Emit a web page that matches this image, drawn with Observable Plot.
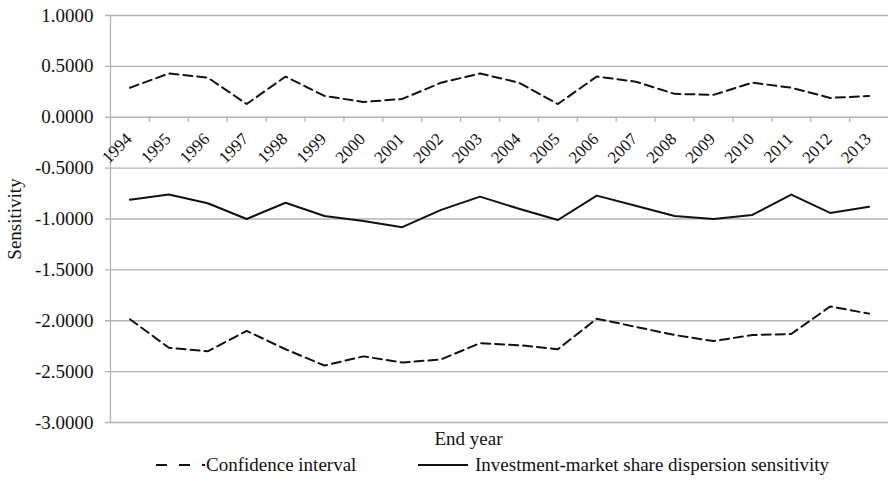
<!DOCTYPE html>
<html>
<head>
<meta charset="utf-8">
<script src="https://cdn.jsdelivr.net/npm/d3@7"></script>
<script src="https://cdn.jsdelivr.net/npm/@observablehq/plot@0.6"></script>
<style>
  html, body { margin: 0; padding: 0; background: #fff; }
  #chart { width: 888px; font-family: "Liberation Serif", "Times New Roman", serif; color: #111; }
  .legend { position: relative; height: 30px; font-size: 19px; }
  .legend > * { position: absolute; top: 0; height: 30px; display: flex; align-items: center; white-space: nowrap; }
  .legend svg { display: block; }
</style>
</head>
<body>
<div id="chart"></div>
<script>
// End years of the rolling estimation windows
const years = ["1994","1995","1996","1997","1998","1999","2000","2001","2002","2003",
               "2004","2005","2006","2007","2008","2009","2010","2011","2012","2013"];

// Investment-market share dispersion sensitivity
const sensitivity = [-0.81, -0.76, -0.845, -1.00, -0.84, -0.97, -1.02, -1.08, -0.91, -0.78,
                     -0.90, -1.01, -0.77, -0.87, -0.97, -1.00, -0.96, -0.76, -0.94, -0.88];

// Upper and lower bounds of the confidence interval
const ciUpper = [0.29, 0.43, 0.39, 0.13, 0.40, 0.21, 0.15, 0.18, 0.34, 0.43,
                 0.34, 0.13, 0.40, 0.35, 0.23, 0.22, 0.34, 0.29, 0.19, 0.21];
const ciLower = [-1.985, -2.265, -2.30, -2.10, -2.28, -2.44, -2.35, -2.41, -2.38, -2.22,
                 -2.24, -2.28, -1.98, -2.06, -2.14, -2.20, -2.14, -2.13, -1.86, -1.93];

// y-axis ticks
const yTicks = [1, 0.5, 0, -0.5, -1, -1.5, -2, -2.5, -3];

const serif = "Liberation Serif, Times New Roman, serif";
const fmt = d => d3.format(".4f")(d).replace("\u2212", "-");
const toRows = (vals) => vals.map((v, i) => ({i: i + 0.5, year: years[i], v}));
const boundaries = d3.range(1, years.length + 1);
const grid = "#b3b3b3";
const ink = "#111";
const dash = "9,5";

const plot = Plot.plot({
  width: 888,
  height: 450,
  marginTop: 15,
  marginBottom: 28,
  marginLeft: 110,
  marginRight: 0,
  style: {fontFamily: serif, color: ink, background: "#fff"},
  x: {type: "linear", domain: [0, years.length], axis: null},
  y: {type: "linear", domain: [-3, 1], axis: null},
  marks: [
    // horizontal gridlines with short outward ticks on the left
    Plot.ruleY(yTicks, {stroke: grid, strokeWidth: 1.3, insetLeft: -5}),
    // vertical axis line
    Plot.ruleX([0], {y1: -3, y2: 1, stroke: grid, strokeWidth: 1.3}),
    // category separators hanging below the zero line
    Plot.ruleX(boundaries, {y1: 0, y2: -0.05, stroke: grid, strokeWidth: 1.3}),
    // y tick labels
    Plot.text(yTicks, {x: 0, y: d => d, text: fmt, textAnchor: "end", dx: -17,
      fontSize: 19, fontFamily: serif, fill: ink}),
    // year labels, rotated, sitting just below the zero line
    Plot.text(years, {x: (d, i) => i + 0.5, y: 0, text: d => d, rotate: -45,
      textAnchor: "end", dx: -1, dy: 19, fontSize: 17, fontFamily: serif, fill: ink}),
    // axis titles
    Plot.text(["Sensitivity"], {x: 0, y: -1, text: d => d, rotate: -90, dx: -96,
      fontSize: 19, fontFamily: serif, fill: ink}),
    Plot.text(["End year"], {x: years.length / 2, y: -3, text: d => d, dx: -31, dy: 16,
      fontSize: 19, fontFamily: serif, fill: ink}),
    // series
    Plot.line(toRows(ciUpper), {x: "i", y: "v", stroke: ink, strokeWidth: 2, strokeDasharray: dash}),
    Plot.line(toRows(ciLower), {x: "i", y: "v", stroke: ink, strokeWidth: 2, strokeDasharray: dash}),
    Plot.line(toRows(sensitivity), {x: "i", y: "v", stroke: ink, strokeWidth: 2})
  ]
});

const chart = document.getElementById("chart");
chart.appendChild(plot);

// legend below the plot
const legend = document.createElement("div");
legend.className = "legend";
legend.innerHTML = `
  <div style="left:156px">
    <svg width="49" height="10"><line x1="0" y1="5" x2="49" y2="5" stroke="${ink}" stroke-width="2.2" stroke-dasharray="11,12"/></svg>
  </div>
  <div style="left:206px">Confidence interval</div>
  <div style="left:418px">
    <svg width="50" height="10"><line x1="0" y1="5" x2="50" y2="5" stroke="${ink}" stroke-width="2.2"/></svg>
  </div>
  <div style="left:475px">Investment-market share dispersion sensitivity</div>`;
chart.appendChild(legend);
</script>
</body>
</html>
